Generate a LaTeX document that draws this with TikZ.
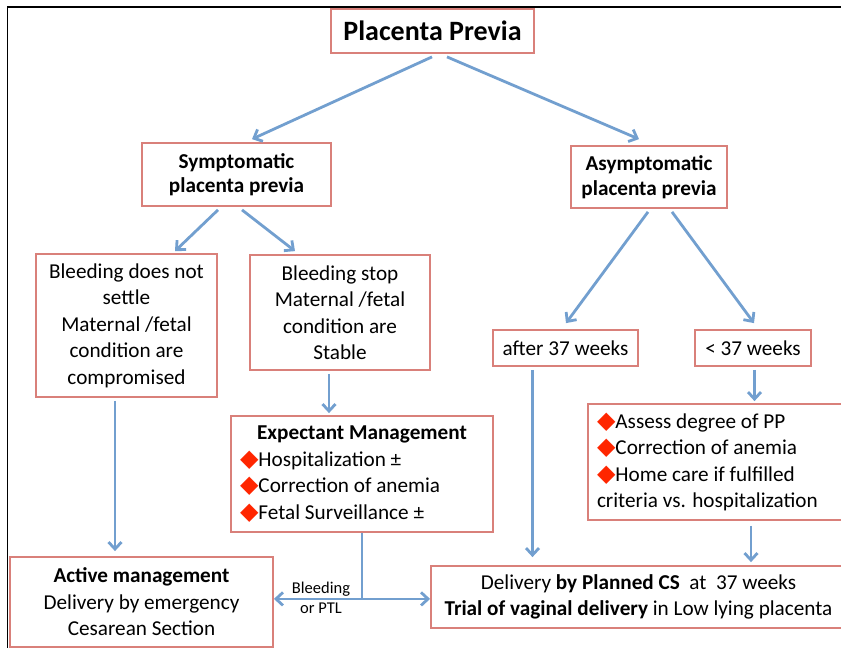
\documentclass[tikz,border=0pt]{standalone}
\usepackage{fontspec}
\setmainfont{Carlito}
\newfontfamily\symfont{DejaVu Sans}
\usetikzlibrary{arrows.meta}

\definecolor{boxred}{RGB}{217,128,122}
\definecolor{flowblue}{RGB}{114,159,207}
\definecolor{dmdred}{RGB}{255,38,0}
\newcommand{\dmd}{{\symfont\fontsize{24}{24}\selectfont\color{dmdred}◆}}

\tikzset{
  box/.style={draw=boxred, line width=1.8pt, fill=white, align=center, inner sep=0pt,
    font=\fontsize{21.2}{26.5}\selectfont},
  head/.style={font=\bfseries\fontsize{21.2}{24.5}\selectfont},
  list/.style={align=flush left, inner xsep=9pt},
  flow/.style={draw=flowblue, line width=2.8pt, -{Straight Barb[length=7pt,width=13pt]}},
  bare/.style={draw=flowblue, line width=2.8pt},
  note/.style={align=center, font=\fontsize{16.5}{20}\selectfont}
}

\begin{document}
\begin{tikzpicture}[x=1pt, y=-1pt]
  \path[use as bounding box, clip] (0,0) rectangle (841,648);
  \draw[line width=1.3pt] (7.5,648) -- (7.5,7) -- (841,7);

  \node[box, minimum width=203pt, minimum height=44pt,
        font=\bfseries\fontsize{28}{32}\selectfont] (pp) at (432.5,31) {Placenta Previa};

  \node[box, head, minimum width=189pt, minimum height=63pt] (sym) at (236.5,174.5)
        {Symptomatic\\placenta previa};
  \node[box, head, minimum width=156pt, minimum height=62pt] (asym) at (649,177)
        {Asymptomatic\\placenta previa};

  \node[box, minimum width=181pt, minimum height=143pt] (nosettle) at (126.5,325.5)
        {Bleeding does not\\settle\\Maternal /fetal\\condition are\\compromised};
  \node[box, minimum width=180pt, minimum height=115pt] (stop) at (340,312.5)
        {Bleeding stop\\Maternal /fetal\\condition are\\Stable};
  \node[box, minimum width=145pt, minimum height=36pt] (after) at (565.5,348) {after 37 weeks};
  \node[box, minimum width=116pt, minimum height=36pt] (before) at (753,348) {< 37 weeks};

  \node[box, list, text width=244pt, minimum height=116pt] (expect) at (362,474)
        {\makebox[\linewidth]{\textbf{Expectant Management}}\\
         \dmd Hospitalization ±\\\dmd Correction of anemia\\\dmd Fetal Surveillance ±};
  \node[box, list, text width=242pt, minimum height=116pt] (assess) at (718,462)
        {\dmd Assess degree of PP\\\dmd Correction of anemia\\\dmd Home care if fulfilled\\
         criteria vs. hospitalization};

  \node[box, minimum width=263pt, minimum height=90pt] (active) at (141.5,602)
        {\textbf{Active management}\\Delivery by emergency\\Cesarean Section};
  \node[box, minimum width=415pt, minimum height=62pt] (deliv) at (638.5,597)
        {Delivery \textbf{by Planned CS}\ \ at\ \ 37 weeks\\
         \textbf{Trial of vaginal delivery} in Low lying placenta};

  % branches
  \draw[flow] ([shift={(-0.5pt,-3pt)}]pp.south) -- ([shift={(15.5pt,3pt)}]sym.north);
  \draw[flow] ([shift={(14.5pt,-3pt)}]pp.south) -- ([shift={(-10pt,6pt)}]asym.north);
  \draw[flow] ([shift={(-18.5pt,-3pt)}]sym.south) -- ([shift={(48.5pt,2pt)}]nosettle.north);
  \draw[flow] ([shift={(5.5pt,-3pt)}]sym.south) -- ([shift={(-45pt,3pt)}]stop.north);
  \draw[flow] ([shift={(-1pt,-3pt)}]asym.south) -- ([shift={(0.5pt,6pt)}]after.north);
  \draw[flow] ([shift={(23pt,-3pt)}]asym.south) -- ([shift={(1pt,6pt)}]before.north);

  % straight drops
  \draw[flow, shorten >=5pt] ([shift={(-11.5pt,-3pt)}]nosettle.south)
        -- ([xshift=-11.5pt]nosettle.south |- active.north);
  \draw[flow, shorten >=2pt] ([shift={(-11pt,-3pt)}]stop.south)
        -- ([xshift=-11pt]stop.south |- expect.north);
  \draw[flow, shorten >=8pt] ([shift={(-33pt,-3pt)}]after.south)
        -- ([xshift=-33pt]after.south |- deliv.north);
  \draw[flow, shorten >=2pt] ([shift={(1.5pt,-3pt)}]before.south)
        -- ([xshift=1.5pt]before.south |- assess.north);
  \draw[flow, shorten >=3pt] ([shift={(33pt,-5pt)}]assess.south)
        -- ([xshift=33pt]assess.south |- deliv.north);

  % bleeding or preterm labour
  \coordinate (split) at ([yshift=-66pt]expect.south);
  \draw[bare] (expect.south) -- (split);
  \draw[flow] (split) -- (split -| active.east);
  \draw[flow] (split) -- (split -| deliv.west);
  \node[note] (bleed) at (321,598) {Bleeding\\or PTL};
\end{tikzpicture}
\end{document}
